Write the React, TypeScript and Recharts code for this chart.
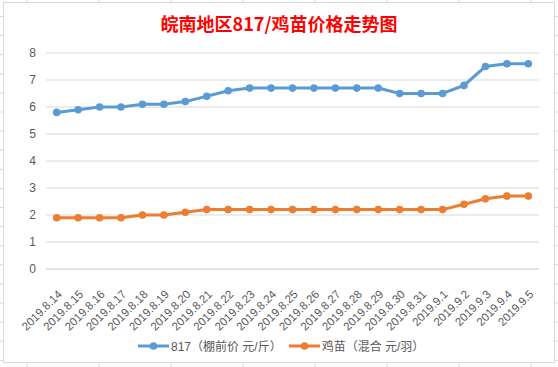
import React from 'react';
import { LineChart, Line, XAxis, YAxis, CartesianGrid } from 'recharts';

const dates = [
  '2019.8.14', '2019.8.15', '2019.8.16', '2019.8.17', '2019.8.18', '2019.8.19',
  '2019.8.20', '2019.8.21', '2019.8.22', '2019.8.23', '2019.8.24', '2019.8.25',
  '2019.8.26', '2019.8.27', '2019.8.28', '2019.8.29', '2019.8.30', '2019.8.31',
  '2019.9.1', '2019.9.2', '2019.9.3', '2019.9.4', '2019.9.5',
];

const price817 = [
  5.8, 5.9, 6.0, 6.0, 6.1, 6.1, 6.2, 6.4, 6.6, 6.7, 6.7, 6.7,
  6.7, 6.7, 6.7, 6.7, 6.5, 6.5, 6.5, 6.8, 7.5, 7.6, 7.6,
];

const chickPrice = [
  1.9, 1.9, 1.9, 1.9, 2.0, 2.0, 2.1, 2.2, 2.2, 2.2, 2.2, 2.2,
  2.2, 2.2, 2.2, 2.2, 2.2, 2.2, 2.2, 2.4, 2.6, 2.7, 2.7,
];

const yTicks = [0, 1, 2, 3, 4, 5, 6, 7, 8];

const seriesNames = ['817（棚前价 元/斤）', '鸡苗（混合 元/羽）'];
const seriesColors = ['#5B9BD5', '#ED7D31'];

const data = dates.map((d, i) => ({ date: d, a: price817[i], b: chickPrice[i] }));

const FONT = '"Liberation Sans", "Noto Sans CJK SC", sans-serif';
const GRID = '#D9D9D9';
const TEXT = '#595959';

const DateTick = (props: any) => {
  const { x, y, payload } = props;
  return (
    <g transform={`translate(${x + 6},${y + 18}) rotate(-45)`}>
      <text x={0} y={0} textAnchor="end" fill={TEXT} fontSize={11.5} fontFamily={FONT}>
        {payload.value}
      </text>
    </g>
  );
};

// faint spreadsheet cell lines peeking out around the chart box
const SheetLines = () => {
  const rows: number[] = [];
  for (let k = 0; k < 19; k++) rows.push(16.5 + 19.1 * k);
  const cols: number[] = [];
  for (let k = 0; k < 8; k++) cols.push(27 + 72 * k);
  return (
    <svg width={558} height={367} style={{ position: 'absolute', left: 0, top: 0 }}>
      {rows.map((r) => (
        <g key={r}>
          <line x1={0} x2={3} y1={r} y2={r} stroke={GRID} />
          <line x1={555} x2={558} y1={r} y2={r} stroke={GRID} />
        </g>
      ))}
      {cols.map((c) => (
        <g key={c}>
          <line x1={c} x2={c} y1={0} y2={2} stroke={GRID} />
          <line x1={c} x2={c} y1={363} y2={367} stroke={GRID} />
        </g>
      ))}
      <rect x={3.5} y={2.5} width={551} height={360} fill="none" stroke={GRID} />
    </svg>
  );
};

export default function App() {
  return (
    <div style={{ position: 'absolute', left: 0, top: 0, width: 558, height: 367, background: '#fff', fontFamily: FONT }}>
      <SheetLines />
      <div
        style={{
          position: 'absolute', left: 0, top: 10, width: 558, textAlign: 'center',
          color: '#FF0000', fontWeight: 'bold', fontSize: 18, fontFamily: '"Noto Sans CJK SC", sans-serif',
        }}
      >
        皖南地区817/鸡苗价格走势图
      </div>
      <div style={{ position: 'absolute', left: 0, top: 0 }}>
        <LineChart width={558} height={367} data={data} margin={{ top: 53, right: 19, left: 16, bottom: 38 }}>
          <CartesianGrid vertical={false} stroke={GRID} />
          <XAxis
            dataKey="date"
            interval={0}
            height={60}
            padding={{ left: 10.7, right: 10.7 }}
            axisLine={{ stroke: GRID }}
            tickLine={false}
            tick={<DateTick />}
          />
          <YAxis
            domain={[0, 8]}
            ticks={yTicks}
            width={30}
            axisLine={false}
            tickLine={false}
            tickMargin={4}
            tick={{ fill: TEXT, fontSize: 12, fontFamily: FONT }}
          />
          <Line
            dataKey="a"
            stroke={seriesColors[0]}
            strokeWidth={3}
            dot={{ r: 3.8, fill: seriesColors[0], stroke: seriesColors[0], strokeWidth: 0 }}
            isAnimationActive={false}
          />
          <Line
            dataKey="b"
            stroke={seriesColors[1]}
            strokeWidth={3}
            dot={{ r: 3.8, fill: seriesColors[1], stroke: seriesColors[1], strokeWidth: 0 }}
            isAnimationActive={false}
          />
        </LineChart>
      </div>
      {/* Legend */}
      <div style={{ position: 'absolute', left: 138, top: 337, display: 'flex', alignItems: 'center', fontSize: 12, color: TEXT }}>
        {seriesNames.map((name, i) => (
          <div key={name} style={{ display: 'flex', alignItems: 'center', marginRight: i === 0 ? 7 : 0 }}>
            <svg width={31} height={14} style={{ marginRight: 2 }}>
              <line x1={0} x2={31} y1={7} y2={7} stroke={seriesColors[i]} strokeWidth={3} />
              <circle cx={15.5} cy={7} r={3.8} fill={seriesColors[i]} />
            </svg>
            <span>{name}</span>
          </div>
        ))}
      </div>
    </div>
  );
}
